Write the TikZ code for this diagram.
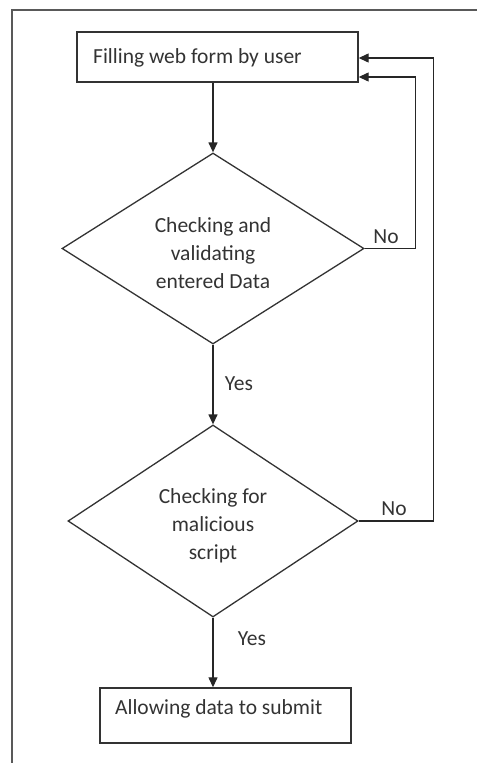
\documentclass[tikz,border=0pt]{standalone}
\usepackage{fontspec}
\setmainfont{Carlito}
\usetikzlibrary{shapes.geometric,arrows.meta}
\begin{document}
\begin{tikzpicture}[x=1pt,y=-1pt,
  frameline/.style={draw=black!65, line width=1.3pt},
  conn/.style={draw=black!85, line width=1.3pt},
  arrowconn/.style={conn, -{Triangle[length=10pt,width=9pt]}},
  procbox/.style={draw=black!80, line width=1.4pt, rectangle, inner sep=0pt},
  decbox/.style={draw=black!80, line width=1.3pt, diamond, inner sep=0pt},
  txt/.style={text=black!80, font=\fontsize{21.5pt}{28pt}\selectfont},
]
\useasboundingbox (0,0) rectangle (477,763);
\draw[frameline] (12,763) -- (12,10) -- (477,10);

\node[procbox, minimum width=281pt, minimum height=50pt] (fill) at (217.5,57) {};
\node[txt, anchor=west, inner sep=0pt] (filltxt) at (93,58) {Filling web form by user};

\node[decbox, minimum width=302pt, minimum height=191pt] (d1) at (213,248.5) {};
\node[txt, align=center, inner sep=0pt] (d1txt) at ([yshift=-5pt]d1.center)
  {Checking and\\validating\\entered Data};
\node[decbox, minimum width=290pt, minimum height=192pt] (d2) at (213,521) {};
\node[txt, align=center, inner sep=0pt] (d2txt) at ([yshift=-5pt]d2.center)
  {Checking for\\malicious\\script};

\node[procbox, minimum width=251pt, minimum height=55pt] (allow) at (225.5,715.5) {};
\node[txt, anchor=west, inner sep=0pt] (allowtxt) at (115,709) {Allowing data to submit};

\draw[arrowconn] (fill.south -| d1.north) -- (d1.north);
\draw[arrowconn] (d1.south) -- (d2.north);
\draw[arrowconn] (d2.south) -- (d2.south |- allow.north);

\draw[arrowconn] (d1.east) -- ++(51,0) |- ([yshift=-20pt]fill.east);
\draw[arrowconn] (d2.east) -- ++(75,0) |- ([yshift=-1pt]fill.east);

\node[txt] (no1) at (386,237) {No};
\node[txt] (no2) at (394,509) {No};
\node[txt] (yes1) at (239,384) {Yes};
\node[txt] (yes2) at (252,639) {Yes};
\end{tikzpicture}
\end{document}
